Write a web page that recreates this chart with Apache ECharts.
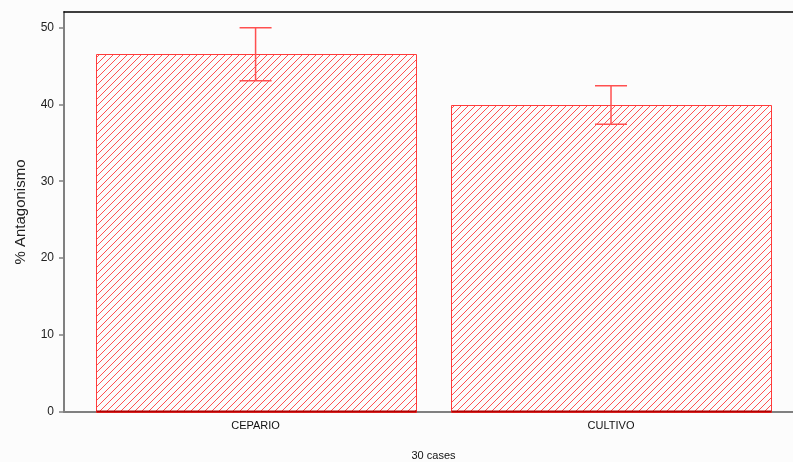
<!DOCTYPE html>
<html>
<head>
<meta charset="utf-8">
<script src="https://cdn.jsdelivr.net/npm/echarts@6/dist/echarts.min.js"></script>
<style>
  html, body { margin: 0; padding: 0; background: #fcfcfc; }
  #chart { width: 793px; height: 462px; }
</style>
</head>
<body>
<div id="chart"></div>
<script>
// Mean % antagonism per source, with its error half-width
var categories = ['CEPARIO', 'CULTIVO'];
var means = [46.5, 39.9];
var errors = [3.45, 2.5];
var yTicks = [0, 10, 20, 30, 40, 50];

// Diagonal hatch tile used to fill the bars
function hatchPattern() {
  var size = 7;
  var c = document.createElement('canvas');
  c.width = size; c.height = size;
  var ctx = c.getContext('2d');
  ctx.fillStyle = 'rgba(255,0,0,0.68)';
  for (var i = 0; i < size; i++) {
    ctx.fillRect(i, size - 1 - i, 1, 1);
  }
  return c;
}
var hatch = hatchPattern();

var chart = echarts.init(document.getElementById('chart'), null, { renderer: 'canvas' });

var BAR_WIDTH = 0.9;   // in category units
var CAP_HALF = 16;     // px

var seriesData = categories.map(function (name, i) {
  return [i, means[i], errors[i]];
});

chart.setOption({
  backgroundColor: '#fcfcfc',
  animation: false,
  textStyle: { fontFamily: 'Liberation Sans, Arial, sans-serif' },
  grid: { left: 64, right: 0, top: 12, bottom: 50, containLabel: false, outerBoundsMode: 'none' },
  xAxis: [{
    type: 'value',
    min: -0.539,
    max: 1.512,
    position: 'bottom',
    axisLine: { show: true, onZero: false, lineStyle: { color: '#808080', width: 2 } },
    axisTick: { show: false },
    splitLine: { show: false },
    axisLabel: {
      customValues: [0, 1],
      formatter: function (v) { return categories[Math.round(v)] || ''; },
      color: '#111',
      fontSize: 11,
      margin: 8
    },
    name: '30 cases',
    nameLocation: 'middle',
    nameGap: 38,
    nameTextStyle: { color: '#111', fontSize: 11, padding: [0, 0, 0, 10] }
  }, {
    type: 'value',
    min: -0.539,
    max: 1.512,
    position: 'top',
    axisLine: { show: true, onZero: false, lineStyle: { color: '#000', width: 1.5 } },
    axisTick: { show: false },
    axisLabel: { show: false },
    splitLine: { show: false }
  }],
  yAxis: {
    type: 'value',
    min: 0,
    max: 52,
    interval: 10,
    axisLine: { show: true, onZero: false, lineStyle: { color: '#808080', width: 2 } },
    axisTick: { show: true, length: 5, lineStyle: { color: '#808080', width: 1.5 },
      customValues: yTicks },
    splitLine: { show: false },
    axisLabel: {
      customValues: yTicks,
      color: '#222',
      fontSize: 12,
      margin: 10
    },
    name: '% Antagonismo',
    nameLocation: 'middle',
    nameGap: 36,
    nameTextStyle: { color: '#222', fontSize: 15 }
  },
  series: [{
    type: 'custom',
    xAxisIndex: 0,
    yAxisIndex: 0,
    data: seriesData,
    renderItem: function (params, api) {
      var x = api.value(0);
      var m = api.value(1);
      var e = api.value(2);
      var base = api.coord([x, 0]);
      var top = api.coord([x, m]);
      var w = api.size([BAR_WIDTH, 0])[0];
      var hi = api.coord([x, m + e]);
      var lo = api.coord([x, m - e]);
      var left = Math.round(base[0] - w / 2) + 0.5;
      return {
        type: 'group',
        children: [{
          type: 'rect',
          shape: { x: left, y: Math.round(top[1]) + 0.5, width: Math.round(w), height: Math.round(base[1] - top[1]) },
          style: { fill: { image: hatch, repeat: 'repeat' }, stroke: '#ff3b3b', lineWidth: 1 }
        }, {
          type: 'line',
          shape: { x1: left, y1: base[1] - 0.5, x2: left + Math.round(w), y2: base[1] - 0.5 },
          style: { stroke: '#b00000', lineWidth: 2 }
        }, {
          type: 'line',
          shape: { x1: base[0], y1: hi[1], x2: base[0], y2: lo[1] },
          style: { stroke: '#ff5050', lineWidth: 1.5 }
        }, {
          type: 'line',
          shape: { x1: base[0] - CAP_HALF, y1: hi[1], x2: base[0] + CAP_HALF, y2: hi[1] },
          style: { stroke: '#ff5050', lineWidth: 1.5 }
        }, {
          type: 'line',
          shape: { x1: base[0] - CAP_HALF, y1: lo[1], x2: base[0] + CAP_HALF, y2: lo[1] },
          style: { stroke: '#ff5050', lineWidth: 1.5 }
        }]
      };
    }
  }]
});
</script>
</body>
</html>
